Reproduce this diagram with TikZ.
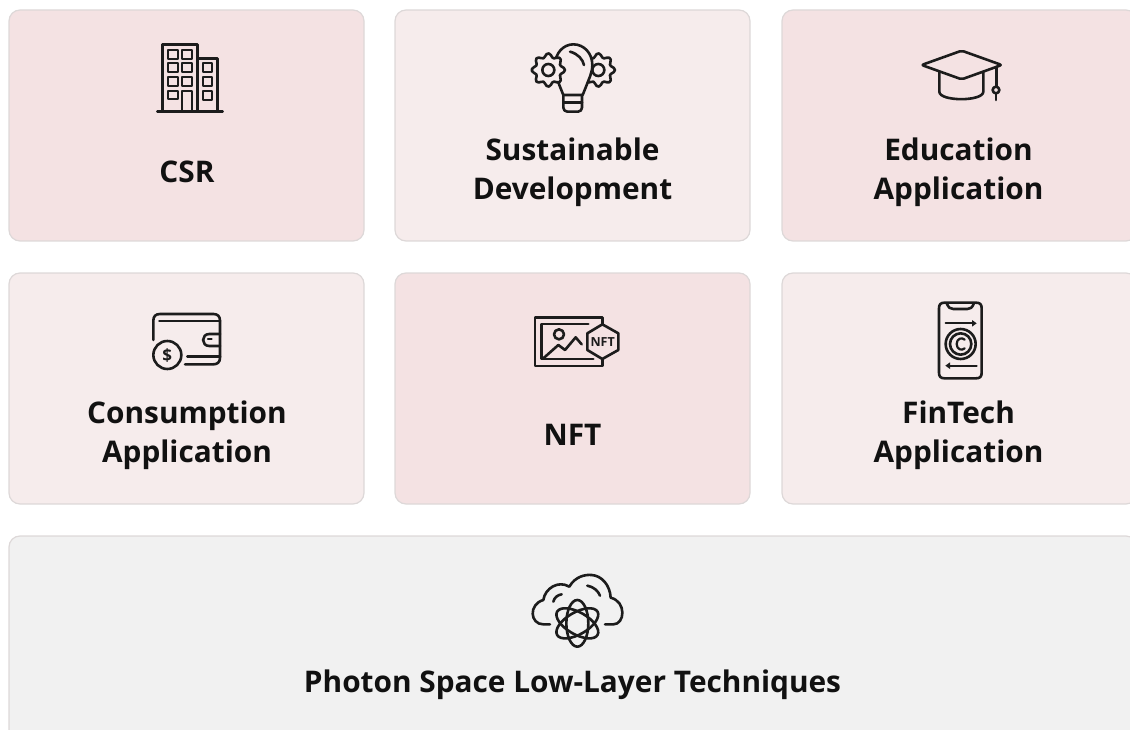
\documentclass[tikz,border=0pt]{standalone}
\usepackage{fontspec}
\setmainfont{Open Sans}
\begin{document}
\begin{tikzpicture}[x=1pt,y=-1pt,
  card/.style={draw=cardline,line width=1.2pt,rounded corners=11pt,minimum width=355pt,minimum height=231pt,inner sep=0pt},
  deep/.style={card,fill=carddeep},
  pale/.style={card,fill=cardpale},
  grey/.style={card,fill=cardgrey},
  lab/.style={font=\fontsize{29.8}{39}\selectfont\bfseries,text=labelink,align=center,inner sep=0pt},
  ico/.style={draw=iconink,line width=2.6pt,line cap=round,line join=round},
  thin/.style={draw=iconink,line width=2.2pt,line cap=round,line join=round},
  zoomed/.style 2 args={shift={(#1,#2)},x=0.33333pt,y=-0.33333pt}]
\definecolor{cardline}{HTML}{DDD8D8}
\definecolor{carddeep}{HTML}{F4E2E3}
\definecolor{cardpale}{HTML}{F6ECEC}
\definecolor{cardgrey}{HTML}{F1F1F1}
\definecolor{labelink}{HTML}{111111}
\definecolor{iconink}{HTML}{1C1C1C}
\useasboundingbox (0,0) rectangle (1130,730);
\clip (0,0) rectangle (1130,730);
\node[deep] (c1) at (186.5,125.5) {};
\node[pale] (c2) at (572.5,125.5) {};
\node[deep] (c3) at (959.5,125.5) {};
\node[pale] (c4) at (186.5,388.5) {};
\node[deep] (c5) at (572.5,388.5) {};
\node[pale] (c6) at (959.5,388.5) {};
\node[grey,minimum width=1128pt] (c7) at (573,651.5) {};
\node[lab] (l1) at (187,171.5) {CSR};
\node[lab] (l2) at (572.5,172.5) {Sustainable\\Development};
\node[lab] (l3) at (958.5,172.5) {Education\\Application};
\node[lab] (l4) at (187,435.5) {Consumption\\Application};
\node[lab] (l5) at (572.5,434.5) {NFT};
\node[lab] (l6) at (958.5,435.5) {FinTech\\Application};
\node[lab] (l7) at (572.5,684.5) {Photon Space Low-Layer Techniques};
% building
\begin{scope}[zoomed={130}{30}]
  \draw[ico] (97,245) -- (97,43) -- (203,43) -- (203,245);
  \draw[ico] (203,85) -- (263,85) -- (263,245);
  \draw[ico] (82,245) -- (278,245);
  \foreach \wx in {115,157}\foreach \wy in {60,100,140}
    \draw[thin] (\wx,\wy) rectangle ++(28,27);
  \draw[thin] (115,182) rectangle ++(28,26);
  \draw[thin] (157,245) -- (157,183) -- (185,183) -- (185,245);
  \foreach \wy in {100,140,182}
    \draw[thin] (218,\wy) rectangle ++(27,27);
\end{scope}
% bulb and gears
\begin{scope}[zoomed={510}{30}]
  \draw[ico] plot[smooth cycle,domain=0:352,samples=45,shift={(265,120)}] (\x:{44+6*cos(8*\x)});
  \draw[ico] (265,120) circle (18);
  \draw[ico,fill=cardpale] (160,195) -- (150,170) .. controls (140,145) and (135,130) .. (135,105)
     .. controls (135,70) and (160,43) .. (190,43) .. controls (222,43) and (247,70) .. (247,105)
     .. controls (247,130) and (235,150) .. (228,170) -- (218,195) -- cycle;
  \draw[ico] (180,65) .. controls (205,72) and (218,88) .. (222,105);
  \draw[ico,fill=cardpale] plot[smooth cycle,domain=0:352,samples=45,shift={(115,120)}] (\x:{44+6*cos(8*\x)});
  \draw[ico] (115,120) circle (18);
  \draw[ico,rounded corners=4pt] (160,195) -- (160,245) -- (216,245) -- (216,195);
  \draw[ico] (160,217) -- (216,217);
\end{scope}
% mortarboard
\begin{scope}[zoomed={900}{30}]
  \draw[ico,rounded corners=2pt] (65,105) -- (185,62) -- (305,105) -- (185,148) -- cycle;
  \draw[ico] (118,125) -- (118,185) .. controls (118,215) and (250,215) .. (250,185) -- (250,125);
  \draw[ico] (290,110) -- (290,170);
  \draw[ico] (288,180) circle (10);
  \draw[ico] (288,190) -- (288,210);
\end{scope}
% wallet
\begin{scope}[zoomed={130}{295}]
  \draw[ico] (70,135) -- (70,77) .. controls (70,64) and (77,57) .. (90,57) -- (250,57)
     .. controls (263,57) and (270,64) .. (270,77) -- (270,188) .. controls (270,201) and (263,208) .. (250,208) -- (165,208);
  \draw[ico] (88,78) -- (270,78);
  \draw[ico] (270,117) -- (238,117) .. controls (213,117) and (213,153) .. (238,153) -- (270,153);
  \draw[thin] (234,133) -- (245,133);
  \draw[ico] (172,185) -- (270,185);
  \draw[ico] (112,180) circle (42);
  \node[font=\fontsize{17}{17}\selectfont\bfseries,text=iconink,inner sep=0pt] (dollar) at (112,181) {\$};
\end{scope}
% NFT picture
\begin{scope}[zoomed={510}{295}]
  \draw[ico] (277,88) -- (277,67) -- (75,67) -- (75,213) -- (277,213) -- (277,192);
  \draw[ico] (235,87) -- (95,87) -- (95,192) -- (250,192);
  \draw[ico] (147,118) circle (15);
  \draw[ico] (100,190) -- (145,150) -- (165,165) -- (197,127) -- (215,148);
  \draw[ico] (277,88) -- (325,115) -- (325,165) -- (277,192) -- (232,165) -- (232,115) -- cycle;
  \node[font=\fontsize{12.5}{12.5}\selectfont\bfseries,text=iconink,inner sep=0pt] (nftmark) at (278,140) {NFT};
\end{scope}
% phone
\begin{scope}[zoomed={900}{295}]
  \draw[ico] (117,40) .. controls (117,28) and (122,23) .. (134,23) -- (228,23) .. controls (240,23) and (245,28) .. (245,40)
     -- (245,233) .. controls (245,245) and (240,250) .. (228,250) -- (134,250) .. controls (122,250) and (117,245) .. (117,233) -- cycle;
  \draw[ico] (140,25) .. controls (146,38) and (150,42) .. (160,42) -- (202,42) .. controls (212,42) and (216,38) .. (222,25);
  \draw[thin] (137,85) -- (222,85);
  \fill[iconink] (230,85) -- (216,75) -- (216,95) -- cycle;
  \draw[thin] (145,212) -- (230,212);
  \fill[iconink] (136,212) -- (150,202) -- (150,222) -- cycle;
  \draw[ico] (182,147) circle (45);
  \draw[ico] (182,147) circle (32);
  \draw[thin] (194,134) .. controls (186,126) and (170,130) .. (170,147) .. controls (170,164) and (186,168) .. (194,160);
\end{scope}
% cloud and atom
\begin{scope}[zoomed={510}{565}]
  \draw[ico] (120,178) -- (100,178) .. controls (60,178) and (55,118) .. (100,105)
     .. controls (105,70) and (145,45) .. (178,65) .. controls (195,35) and (225,28) .. (245,30)
     .. controls (275,32) and (300,60) .. (302,98) .. controls (350,110) and (345,178) .. (310,178) -- (285,178);
  \draw[ico] (130,110) .. controls (133,98) and (142,90) .. (155,88);
  \draw[ico] (232,62) .. controls (250,65) and (265,78) .. (270,92);
  \draw[ico] (202,175) ellipse [x radius=33,y radius=70];
  \draw[ico,rotate around={60:(202,175)}] (202,175) ellipse [x radius=33,y radius=70];
  \draw[ico,rotate around={-60:(202,175)}] (202,175) ellipse [x radius=33,y radius=70];
\end{scope}
\end{tikzpicture}
\end{document}
